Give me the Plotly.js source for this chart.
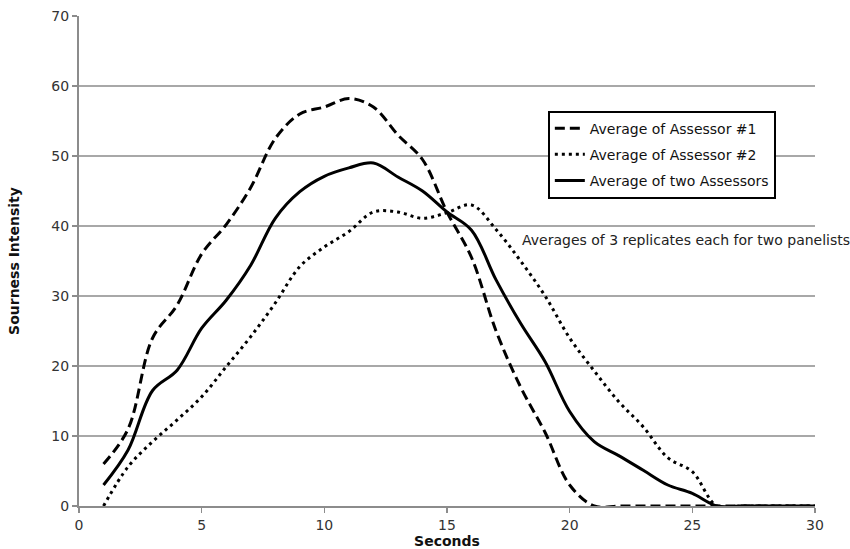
<!DOCTYPE html>
<html>
<head>
<meta charset="utf-8">
<script src="https://cdn.plot.ly/plotly-3.0.1.min.js"></script>
<style>html,body{margin:0;padding:0;background:#fff;}#chart{width:850px;height:549px;}</style>
</head>
<body>
<div id="chart"></div>
<script>
const seconds = [1,2,3,4,5,6,7,8,9,10,11,12,13,14,15,16,17,18,19,20,21,22,23,24,25,26,27,28,29,30];
const assessor1 = [6,11,24,28.7,36,40.2,45.5,52.5,56,57,58.2,57,53,49.5,42,35.5,25,17,10.5,3,0,0,0,0,0,0,0,0,0,0];
const assessor2 = [0,5.6,9.2,12.3,15.6,19.9,24.2,29,34.2,37,39.2,42,42,41.1,41.9,43,39.5,35,30,24,19.3,14.9,11.3,6.9,4.9,0,0,0,0,0];
const averageTwo = [3,8,16.5,19.4,25.4,29.4,34.4,41.1,44.9,47.1,48.3,49,47,45,42,39.4,32.3,26.1,20.6,13.5,9.2,7.2,5.1,3,1.8,0,0,0,0,0];
const seriesNames = ["Average of Assessor #1","Average of Assessor #2","Average of two Assessors"];
const xTicks = [0,5,10,15,20,25,30];
const yTicks = [0,10,20,30,40,50,60,70];
const noteText = "Averages of 3 replicates each for two panelists";

const font = "DejaVu Sans, Verdana, sans-serif";
const traces = [
  {x: seconds, y: assessor1, name: seriesNames[0], legendgroup: "a", mode: "lines",
   line: {color: "#000", width: 3, dash: "10px,5px", shape: "spline", smoothing: 1}},
  {x: seconds, y: assessor2, name: seriesNames[1], legendgroup: "b", mode: "lines",
   line: {color: "#000", width: 3, dash: "3px,4px", shape: "spline", smoothing: 1}},
  {x: seconds, y: averageTwo, name: seriesNames[2], legendgroup: "c", mode: "lines",
   line: {color: "#000", width: 3, shape: "spline", smoothing: 1}}
];
const layout = {
  width: 850, height: 549,
  margin: {l: 79, r: 35, t: 15.5, b: 43},
  paper_bgcolor: "#fff", plot_bgcolor: "#fff",
  font: {family: font, size: 14, color: "#222"},
  showlegend: true,
  legend: {x: 0.637, y: 0.807, xanchor: "left", yanchor: "top",
    bordercolor: "#000", borderwidth: 2, bgcolor: "#fff",
    font: {family: font, size: 14, color: "#111"}, tracegroupgap: 5},
  xaxis: {range: [0, 30], tickvals: xTicks, ticktext: xTicks.map(String),
    showgrid: false, zeroline: false, showline: true, linecolor: "#8c8c8c", linewidth: 2,
    ticks: "outside", ticklen: 5, tickcolor: "#8c8c8c", tickwidth: 1.5,
    tickfont: {family: font, size: 14, color: "#333"},
    title: {text: "<b>Seconds</b>", font: {family: font, size: 14, color: "#111"}, standoff: 0}},
  yaxis: {range: [0, 70], tickvals: yTicks, ticktext: yTicks.map(String),
    showgrid: true, gridcolor: "#a8a8a8", gridwidth: 1.5, zeroline: false,
    showline: true, linecolor: "#8c8c8c", linewidth: 2,
    ticks: "outside", ticklen: 5, tickcolor: "#8c8c8c", tickwidth: 1.5,
    tickfont: {family: font, size: 14, color: "#333"},
    title: {text: "<b>Sourness Intensity</b>", font: {family: font, size: 14, color: "#111"}, standoff: 28}},
  annotations: [{xref: "paper", yref: "paper", x: 0.599, y: 0.542, xanchor: "left", yanchor: "middle",
    text: noteText, showarrow: false, font: {family: font, size: 14, color: "#222"}}]
};
Plotly.newPlot("chart", traces, layout, {displayModeBar: false, staticPlot: true});
</script>
</body>
</html>
